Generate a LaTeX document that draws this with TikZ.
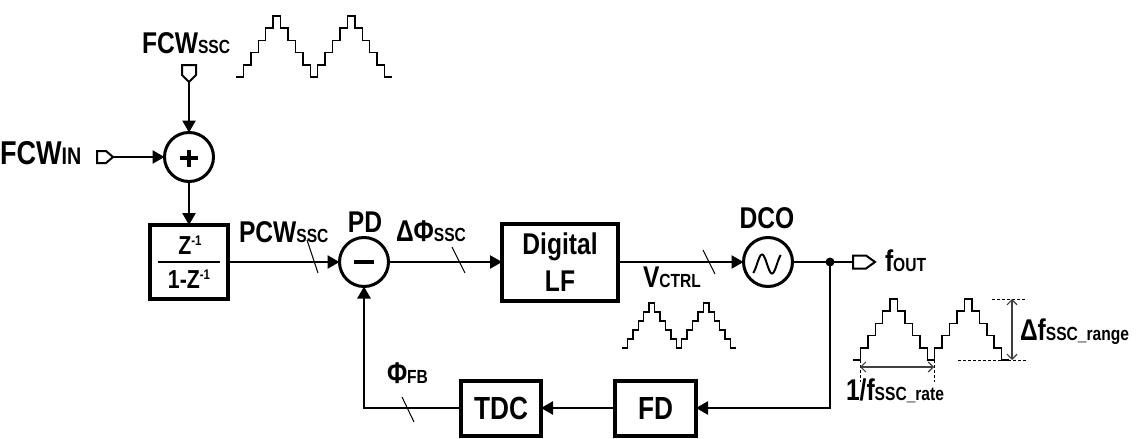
\documentclass[tikz,border=0pt]{standalone}
\usepackage{fontspec}
\setmainfont{Liberation Sans}[FakeStretch=0.82]
\usetikzlibrary{arrows.meta}
\newcommand\mysub[1]{{\fontsize{19}{19}\selectfont #1}}
\newcommand\mysup[1]{\raisebox{8.5pt}{\fontsize{14}{14}\selectfont #1}}
\tikzset{
  stairs/.pic={\draw[line width=1.5pt, line join=miter]
    (0,0)--(1,0)--(1,-1)--(2,-1)--(2,-2)--(3,-2)--(3,-3)--(4,-3)--(4,-4)--(5,-4)--(5,-5)--(6,-5)
    --(6,-4)--(7,-4)--(7,-3)--(8,-3)--(8,-2)--(9,-2)--(9,-1)--(10,-1)--(10,0)--(11,0)
    --(11,-1)--(12,-1)--(12,-2)--(13,-2)--(13,-3)--(14,-3)--(14,-4)--(15,-4)--(15,-5)--(16,-5)
    --(16,-4)--(17,-4)--(17,-3)--(18,-3)--(18,-2)--(19,-2)--(19,-1)--(20,-1)--(20,0)--(21,0);}
}
\begin{document}
\begin{tikzpicture}[x=1pt,y=-1pt,
  every node/.style={inner sep=0pt, outer sep=0pt, font=\bfseries\fontsize{30}{37}\selectfont},
  blk/.style={draw, line width=4pt, align=center},
  sumc/.style={draw, circle, line width=3pt, minimum size=49pt},
  wire/.style={line width=2.5pt},
  arr/.style={wire, -{Triangle[length=12pt,width=13pt]}},
  bus/.style={line width=1pt},
  port/.style={draw, line width=2pt, fill=white, line join=miter},
  dim/.style={draw=black!75, line width=1.2pt, {Straight Barb[length=5pt,width=10pt]}-{Straight Barb[length=5pt,width=10pt]}},
  dsh/.style={line width=0.8pt, dash pattern=on 3pt off 2pt}
]
\useasboundingbox (0,0) rectangle (1138,439);

% blocks
\node[sumc] (add) at (189,157) {};
\node[sumc] (pd) at (364,262) {};
\node[sumc] (dco) at (768,262) {};
\node[blk, minimum width=78pt, minimum height=74pt] (zb) at (189,262) {};
\node[blk, minimum width=116pt, minimum height=77pt] (lf) at (560,262) {Digital\\LF};
\node[blk, minimum width=80pt, minimum height=55pt] (tdc) at (501,408) {\fontsize{32}{32}\selectfont TDC};
\node[blk, minimum width=81pt, minimum height=55pt] (fd) at (655.5,408) {\fontsize{32}{32}\selectfont FD};

% symbols inside circles
\draw[line width=3.5pt] (180,158)--(198,158) (189,149.5)--(189,166.5);
\draw[line width=3.5pt] (354,262)--(374,262);
\draw[line width=2pt] plot[domain=20:520, samples=60, smooth] ({752+\x/360*20}, {264+9.5*cos(\x)});

% fraction
\node[anchor=base, font=\bfseries\fontsize{26}{26}\selectfont] (z1) at (190,254) {Z\mysup{-1}};
\node[anchor=base, font=\bfseries\fontsize{26}{26}\selectfont] (z2) at (189,288) {1-Z\mysup{-1}};
\draw[line width=2pt] (158,262)--(220,262);

% coordinates
\coordinate (sscport) at (189,82);
\coordinate (inport) at (113,157);
\coordinate (outport) at (853,262);
\coordinate (dot) at (830,262);

% connectors
\draw[arr] (sscport) -- (add.north);
\draw[arr] (inport) -- (add.west);
\draw[arr] (add.south) -- (zb.north);
\draw[arr] (zb.east) -- (pd.west);
\draw[arr] (pd.east) -- (lf.west);
\draw[arr] (lf.east) -- (dco.west);
\draw[wire] (dco.east) -- (outport);
\fill (dot) circle (4.5pt);
\draw[arr] (dot) |- (fd.east);
\draw[arr] (fd.west) -- (tdc.east);
\draw[arr] (tdc.west) -| (pd.south);

% ports
\draw[port] (182,65) -- (196,65) -- (196,75) -- (189,82) -- (182,75) -- cycle;
\draw[port] (97,151) -- (106,151) -- (113,157) -- (106,163) -- (97,163) -- cycle;
\draw[port] (853,255.5) -- (866,255.5) -- (875,262) -- (866,268.5) -- (853,268.5) -- cycle;

% bus slashes
\draw[bus] (307,240) -- (318,273);
\draw[bus] (452,247) -- (465,273);
\draw[bus] (703,250) -- (715,274);
\draw[bus] (402,397) -- (414,422);

% waveforms
\pic[xscale=7.43, yscale=12.2] at (236,77) {stairs};
\pic[xscale=5.43, yscale=9] at (622,348) {stairs};
\pic[xscale=7.43, yscale=12.2] at (853,360) {stairs};

% dimensions
\coordinate (rl) at (860,367);
\coordinate (rr) at (934,367);
\draw[dsh] (860,360) -- (860,382);
\draw[dsh] (934,360) -- (934,382);
\draw[dim] (rl) -- (rr);
\coordinate (ht) at (1012,299);
\coordinate (hb) at (1012,360);
\draw[dsh] (992,299) -- (1027,299);
\draw[dsh] (958,360) -- (1028,360);
\draw[dim] (ht) -- (hb);

% labels
\node[anchor=base west] (tssc) at (142,53) {FCW\mysub{SSC}};
\node[anchor=base west, font=\bfseries\fontsize{33}{37}\selectfont] (tin) at (0,164) {FCW{\fontsize{24}{24}\selectfont IN}};
\node[anchor=base west] (tpcw) at (239,242) {PCW\mysub{SSC}};
\node[anchor=base] (tpd) at (365,232) {PD};
\node[anchor=base west] (tdphi) at (396,241) {ΔΦ\mysub{SSC}};
\node[anchor=base] (tdco) at (767,228) {DCO};
\node[anchor=base west] (tv) at (643,287) {V\mysub{CTRL}};
\node[anchor=base west] (tf) at (885,271) {f\mysub{OUT}};
\node[anchor=base west] (tfb) at (387,383) {Φ\mysub{FB}};
\node[anchor=base west] (trange) at (1020,340) {Δf\mysub{SSC\_range}};
\node[anchor=base west] (trate) at (846,400) {1/f\mysub{SSC\_rate}};
\end{tikzpicture}
\end{document}
